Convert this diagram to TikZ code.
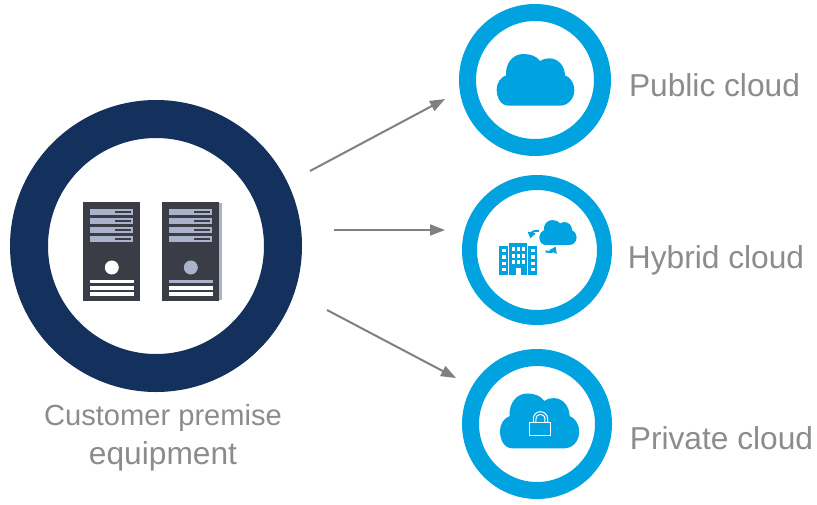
\documentclass[tikz,border=0pt]{standalone}
\usepackage{fontspec}
\setmainfont{Liberation Sans}
\usetikzlibrary{arrows.meta}
\definecolor{navy}{HTML}{14305C}
\definecolor{sky}{HTML}{00A3E0}
\definecolor{txtgray}{HTML}{8C8C8C}
\definecolor{arrgray}{HTML}{808080}
\definecolor{srvdark}{HTML}{3A3D46}
\definecolor{srvlav}{HTML}{ABB2CC}
\newcommand{\cloudshape}{%
    \fill[sky] (85,197) .. controls (62,197) and (50,172) .. (50,148)
      .. controls (50,128) and (62,112) .. (78,106)
      .. controls (76,70) and (98,42) .. (130,42)
      .. controls (150,42) and (170,48) .. (180,63)
      .. controls (188,57) and (198,55) .. (208,55)
      .. controls (235,55) and (254,78) .. (255,106)
      .. controls (272,112) and (283,130) .. (283,150)
      .. controls (283,175) and (265,197) .. (240,197) -- cycle;
}
\newcommand{\serverbox}[5]{%
  \begin{scope}[shift={(#1,#2)}]
    \fill[srvdark] (0,0) rectangle (57,99);
    \foreach \yy in {6.5,15.7,25,34.3}{
      \fill[srvlav] (6.5,\yy) rectangle (50,\yy+6);
      \fill[srvdark] (32,\yy+2) rectangle (48,\yy+4);
    }
    \fill[#3] (28.8,65.5) circle (7pt);
    \fill[#4] (7,77.5) rectangle (50.5,80.5);
    \fill[#5] (7,84) rectangle (50.5,87.5);
    \fill[#5] (7,90) rectangle (50.5,93.5);
  \end{scope}
}
\tikzset{
  bigring/.style={circle,draw=navy,fill=white,line width=38pt,minimum size=254pt,inner sep=0pt},
  ring/.style={circle,draw=sky,fill=white,line width=#1,inner sep=0pt},
  label text/.style={text=txtgray,anchor=base,inner sep=0pt,font=\fontsize{31.7}{38}\selectfont},
  caption text/.style={text=txtgray,anchor=base,inner sep=0pt,font=\fontsize{29.1}{35}\selectfont},
  flow/.style={draw=arrgray,line width=2pt,-{Triangle[length=15pt,width=11pt]}}
}
\begin{document}
\begin{tikzpicture}[x=1pt,y=-1pt]
\useasboundingbox (0,0) rectangle (817,504);
\fill[white] (0,0) rectangle (817,504);

% rings
\node[bigring] (cpe) at (156,246) {};
\node[ring=17pt,minimum size=135pt] (pub) at (535,80) {};
\node[ring=15pt,minimum size=135pt] (hyb) at (537,250) {};
\node[ring=17pt,minimum size=133pt] (pri) at (537,424) {};

% servers
\fill[srvlav] (218,203) rectangle (221.5,300);
\serverbox{83}{202}{white}{white}{white}
\serverbox{162}{202}{srvlav}{srvlav}{white}

% public cloud
\begin{scope}[shift={(480,40)},scale=0.3333]
  \cloudshape
\end{scope}

% private cloud with padlock
\begin{scope}[shift={(480,380)},scale=0.3333]
  \begin{scope}[shift={(9,-4)},xscale=1.02,yscale=1.06]
    \cloudshape
  \end{scope}
  \draw[white,line width=1pt,fill=sky] (150,128) rectangle (213,167);
  \draw[white,line width=1pt] (160,128) -- (160,118) .. controls (160,103) and (170,95) .. (181,95)
     .. controls (192,95) and (203,103) .. (203,118) -- (203,128);
  \draw[white,line width=1pt] (168,128) -- (168,118) .. controls (168,108) and (174,103) .. (181,103)
     .. controls (188,103) and (195,108) .. (195,118) -- (195,128);
\end{scope}

% hybrid cloud icon
\begin{scope}[shift={(480,200)},scale=0.3333]
  \begin{scope}[shift={(154,40)},scale=0.48]
    \cloudshape
  \end{scope}
  % towers
  \fill[sky] (58,137) rectangle (85,225);
  \fill[sky] (88,130) rectangle (142,225);
  \fill[sky] (145,137) rectangle (172,225);
  \foreach \yy in {147,166,185,204}{
    \fill[white] (66,\yy) rectangle (77,\yy+10);
    \fill[white] (153,\yy) rectangle (164,\yy+10);
  }
  \foreach \yy in {141,161,181}{
    \foreach \xx in {97,112,127}{
      \fill[white] (\xx-1,\yy) rectangle (\xx+9,\yy+12);
    }
  }
  \fill[white] (108,203) rectangle (122,225);
  % exchange arrows
  \draw[sky,line width=2pt,-{Triangle[length=6pt,width=8pt]}] (177,93) .. controls (165,90) and (155,97) .. (151,115);
  \draw[sky,line width=2pt,-{Triangle[length=6pt,width=8pt]}] (197,154) .. controls (208,158) and (220,154) .. (227,140);
\end{scope}

% connectors
\coordinate (a1) at (310,171);
\coordinate (a2) at (445,99);
\coordinate (b1) at (334,230);
\coordinate (b2) at (445,230);
\coordinate (c1) at (327,310);
\coordinate (c2) at (456,378);
\draw[flow] (a1) -- (a2);
\draw[flow] (b1) -- (b2);
\draw[flow] (c1) -- (c2);

% labels
\node[caption text] (t1) at (163,425) {Customer premise};
\node[label text] (t2) at (163,464) {equipment};
\node[label text] (t3) at (714.5,96) {Public cloud};
\node[label text] (t4) at (716,268) {Hybrid cloud};
\node[label text] (t5) at (721.5,449) {Private cloud};
\end{tikzpicture}
\end{document}
